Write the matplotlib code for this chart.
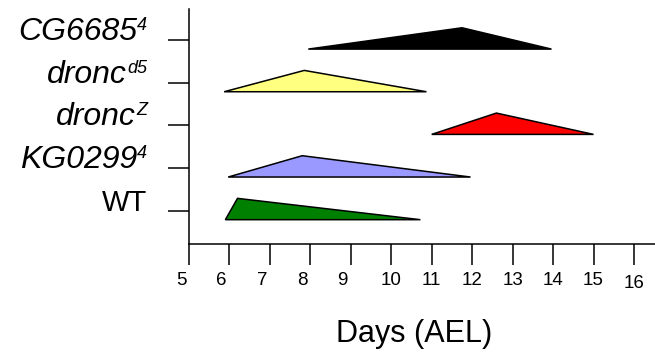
import matplotlib
matplotlib.use("Agg")
import matplotlib.pyplot as plt
import matplotlib.transforms as mtransforms

plt.rcParams["font.family"] = ["Liberation Sans", "DejaVu Sans"]

# & Data (bottom row first)
strain_names = ["WT", "KG0299", "dronc", "dronc", "CG6685"]
strain_sups = ["", "4", "Z", "d5", "4"]
start_day = [5.9, 5.97, 11.0, 5.87, 7.95]
peak_day = [6.2, 7.8, 12.6, 7.85, 11.75]
end_day = [10.72, 11.96, 15.0, 10.87, 13.96]
colors = ["#008000", "#9999ff", "#ff0000", "#ffff80", "#000000"]
days = list(range(5, 17))

fig = plt.figure(figsize=(6.55, 3.53), dpi=100)
ax = fig.add_axes([0.2885, 0.3088, 0.7115, 0.6657])

# Triangles: base a bit under the tick, apex above it
for i in range(len(strain_names)):
    y = i + 1
    ax.fill(
        [start_day[i], peak_day[i], end_day[i]],
        [y - 0.21, y + 0.29, y - 0.21],
        facecolor=colors[i],
        edgecolor="black",
        linewidth=1.1,
    )

ax.set_xlim(5, 16.52)
ax.set_ylim(0.22, 5.73)

ax.set_xticks(days)
ax.set_xticklabels([str(d) for d in days])
ax.set_yticks(range(1, len(strain_names) + 1))
ax.set_yticklabels([])

ax.tick_params(axis="x", direction="out", length=15, width=1.1, pad=5.5, labelsize=13.5)
ax.tick_params(axis="y", direction="out", length=15, width=1.1)

# & Strain labels: italic name + smaller superscript, right edge ~42px left of axis
ytrans = ax.get_yaxis_transform()
for i in range(len(strain_names)):
    y = i + 1
    if strain_sups[i] == "":
        ax.text(0, y, strain_names[i], fontsize=21, ha="right", va="baseline",
                transform=ytrans + mtransforms.ScaledTranslation(-0.42, 0, fig.dpi_scale_trans))
        continue
    sup = ax.text(0, y, strain_sups[i], fontsize=13, style="italic", ha="right", va="baseline",
                  transform=ytrans + mtransforms.ScaledTranslation(-0.42, 0.1, fig.dpi_scale_trans))
    ax.annotate(strain_names[i], xy=(0, y), xycoords=(sup, ytrans),
                fontsize=23, style="italic", ha="right", va="baseline")

# single digit labels sit a little left of their ticks in the original
for lab in ax.get_xticklabels():
    txt = lab.get_text()
    dx = -8 if len(txt) == 1 else 0
    dy = -3 if txt == "16" else 0
    lab.set_transform(
        lab.get_transform() + mtransforms.ScaledTranslation(dx / 100, dy / 100, fig.dpi_scale_trans)
    )

for side in ["top", "right"]:
    ax.spines[side].set_visible(False)
for side in ["left", "bottom"]:
    ax.spines[side].set_linewidth(1.1)

ax.set_xlabel("Days (AEL)", fontsize=22)
ax.xaxis.set_label_coords(0.483, -0.417)
ax.xaxis.label.set_va("baseline")

fig.savefig("out.png", dpi=100)
